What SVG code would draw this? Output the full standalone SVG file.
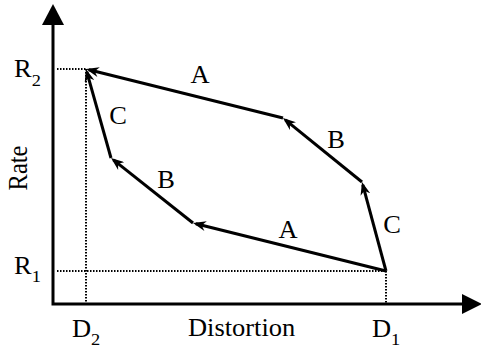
<svg xmlns="http://www.w3.org/2000/svg" width="481" height="348" viewBox="0 0 481 348">
<defs>
<style>
text{font-family:"Liberation Serif","Times New Roman",serif;font-size:24.5px;fill:#000}
.sub{font-size:17px}
.axis{stroke:#000;stroke-width:3;fill:none}
.dot{stroke:#000;stroke-width:2;stroke-dasharray:1.5 1.5;fill:none}
.edge{stroke:#000;stroke-width:3;fill:none;marker-end:url(#ah)}
</style>
<marker id="ah" viewBox="0 0 13 10" refX="10" refY="5" markerWidth="13" markerHeight="10" markerUnits="userSpaceOnUse" orient="auto">
<path d="M0,0 L13,5 L0,10 L4,5 z" fill="#000"/>
</marker>
</defs>
<rect width="481" height="348" fill="#fff"/>
<g id="axes">
<path class="axis" d="M53,24 V304 H463"/>
<polygon points="42,25 53,4 64,25" fill="#000"/>
<polygon points="462,294 482,304 462,314" fill="#000"/>
<text transform="translate(27,168) scale(1,1.0) rotate(-90) scale(1,1.08)" text-anchor="middle">Rate</text>
<text transform="translate(188,336) scale(1.08,1)">Distortion</text>
</g>
<g id="guides">
<path class="dot" d="M57,69 H86 M86,69 V304 M57,271 H386 M386,271 V304"/>
<text transform="translate(14,77) scale(1.08,1)">R<tspan class="sub" dy="9">2</tspan></text>
<text transform="translate(14,274) scale(1.08,1)">R<tspan class="sub" dy="8">1</tspan></text>
<text transform="translate(72,337) scale(1.08,1)">D<tspan class="sub" dy="8">2</tspan></text>
<text transform="translate(372,337) scale(1.08,1)">D<tspan class="sub" dy="8">1</tspan></text>
</g>
<g id="connectors">
<path class="edge" d="M386,271 L362.8,184.9"/>
<path class="edge" d="M362,182 L285.3,119.9"/>
<path class="edge" d="M283,118 L88.9,69.7"/>
<path class="edge" d="M386,271 L195.9,223.7"/>
<path class="edge" d="M193,223 L113.4,159.9"/>
<path class="edge" d="M111,158 L86.8,71.9"/>
</g>
<g id="labels">
<text transform="translate(200,83) scale(1.08,1)" text-anchor="middle">A</text>
<text transform="translate(336,148) scale(1.08,1)" text-anchor="middle">B</text>
<text transform="translate(392,233) scale(1.08,1)" text-anchor="middle">C</text>
<text transform="translate(288,238) scale(1.08,1)" text-anchor="middle">A</text>
<text transform="translate(166,188) scale(1.08,1)" text-anchor="middle">B</text>
<text transform="translate(118,124) scale(1.08,1)" text-anchor="middle">C</text>
</g>
</svg>
